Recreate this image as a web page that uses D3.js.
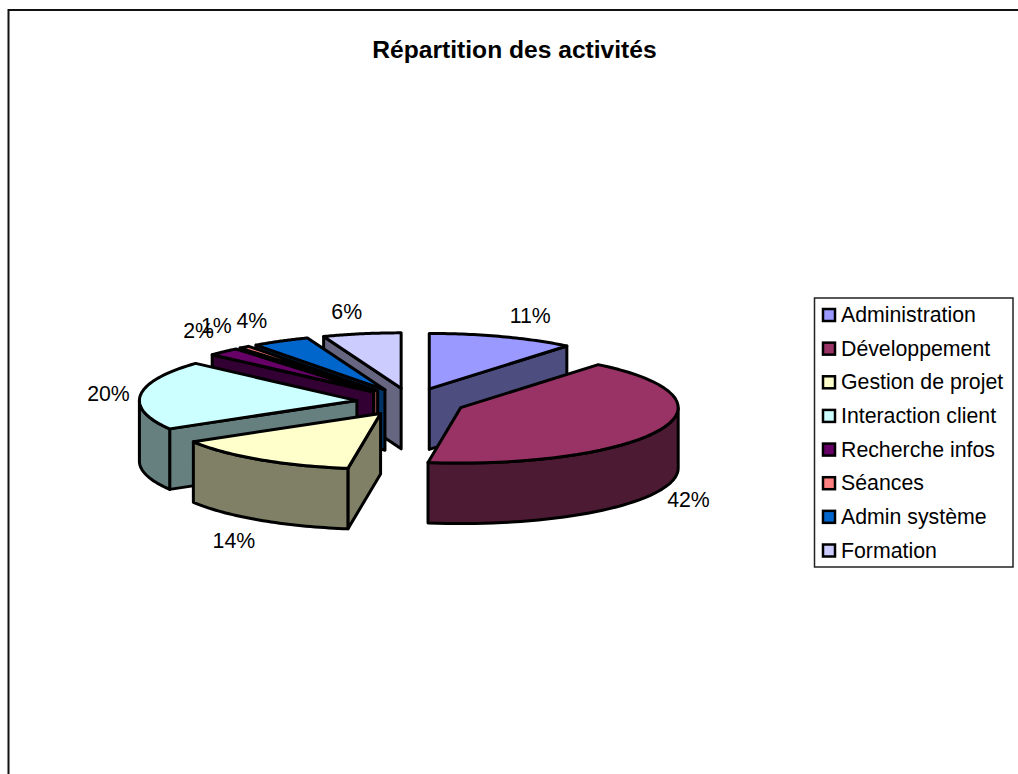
<!DOCTYPE html>
<html><head><meta charset="utf-8">
<script src="https://cdnjs.cloudflare.com/ajax/libs/d3/7.8.5/d3.min.js"></script>
<style>html,body{margin:0;padding:0;background:#fff}svg{display:block}text{font-family:"Liberation Sans",Arial,sans-serif;fill:#000}</style>
</head><body><svg id="c" width="1018" height="774"></svg>
<script>
const categories=["Administration","Développement","Gestion de projet","Interaction client","Recherche infos","Séances","Admin système","Formation"];
const values=[10.9,41.5,14.1,20.2,2.4,0.8,4.3,5.8];
const topColors=["#9999FF","#993366","#FFFFCC","#CCFFFF","#660066","#FF8080","#0066CC","#CCCCFF"];
const sideColors=["#4D4D80","#4D1A33","#808066","#668080","#330033","#804040","#003366","#666680"];
const titleText="Répartition des activités";

// layout
const W=1018,H=774,cx=411,cy=402,rx=217.5,ry=55.5,depth=60.5,explode=0.25;
const labelNudge=[[28,-21],[29,70],[-25,81],[-32,-1],[-25,-21],[-28,-21],[-29,-20],[-15,-22]];
const paintOrder=[7,6,5,4,3,2,0,1];
const svg=d3.select("#c");
svg.append("path").attr("d",`M${W},10H8.5V${H}`).attr("fill","none").attr("stroke","#111").attr("stroke-width",2);
svg.append("text").attr("x",514.5).attr("y",57.5).attr("text-anchor","middle").attr("font-weight","bold").attr("font-size",24.6).text(titleText);

const arcs=d3.pie().sort(null).value(d=>d)(values);
const pt=(c,a,k=1)=>[c[0]+rx*k*Math.sin(a),c[1]-ry*k*Math.cos(a)];
const down=p=>[p[0],p[1]+depth];
const line=d3.line();
const apexOf=a=>pt([cx,cy],(a.startAngle+a.endAngle)/2,explode);
const arcPts=(c,a0,a1)=>d3.range(0,41).map(i=>pt(c,a0+(a1-a0)*i/40));
const gPie=svg.append("g").attr("stroke","#000").attr("stroke-width",3).attr("stroke-linejoin","round");
paintOrder.forEach(i=>{
  const a=arcs[i],c=apexOf(a),g=gPie.append("g");
  const ps=pt(c,a.startAngle),pe=pt(c,a.endAngle);
  const face=(p,col)=>g.append("path").attr("d",line(p)+"Z").attr("fill",col);
  // a radial face is seen when its outward normal points towards the viewer
  if(Math.sin(a.endAngle)>1e-6) face([c,pe,down(pe),down(c)],sideColors[i]);
  if(Math.sin(a.startAngle)<-1e-6) face([c,ps,down(ps),down(c)],sideColors[i]);
  // outer wall on the front half of the ellipse
  const lo=Math.max(a.startAngle,Math.PI/2),hi=Math.min(a.endAngle,3*Math.PI/2);
  if(hi>lo){const t=arcPts(c,lo,hi);face(t.concat(t.map(down).reverse()),sideColors[i]);}
  face([c].concat(arcPts(c,a.startAngle,a.endAngle)),topColors[i]);
});
const gLab=svg.append("g").attr("font-size",21.3);
arcs.forEach((a,i)=>{
  const c=apexOf(a),p=pt(c,(a.startAngle+a.endAngle)/2);
  gLab.append("text").attr("x",p[0]+labelNudge[i][0]).attr("y",p[1]+labelNudge[i][1]+7).attr("text-anchor","middle")
    .text(Math.round(a.value)+"%");
});
// legend
const y=d3.scalePoint().domain(categories).range([315,550.5]);
svg.append("rect").attr("x",814.5).attr("y",298).attr("width",198.5).attr("height",269).attr("fill","#fff").attr("stroke","#222").attr("stroke-width",1.5);
categories.forEach((n,i)=>{
  svg.append("rect").attr("x",823).attr("y",y(n)-6).attr("width",12).attr("height",12).attr("fill",topColors[i]).attr("stroke","#000").attr("stroke-width",2.5);
  svg.append("text").attr("x",841).attr("y",y(n)+7).attr("font-size",21.3).text(n);
});
</script></body></html>
